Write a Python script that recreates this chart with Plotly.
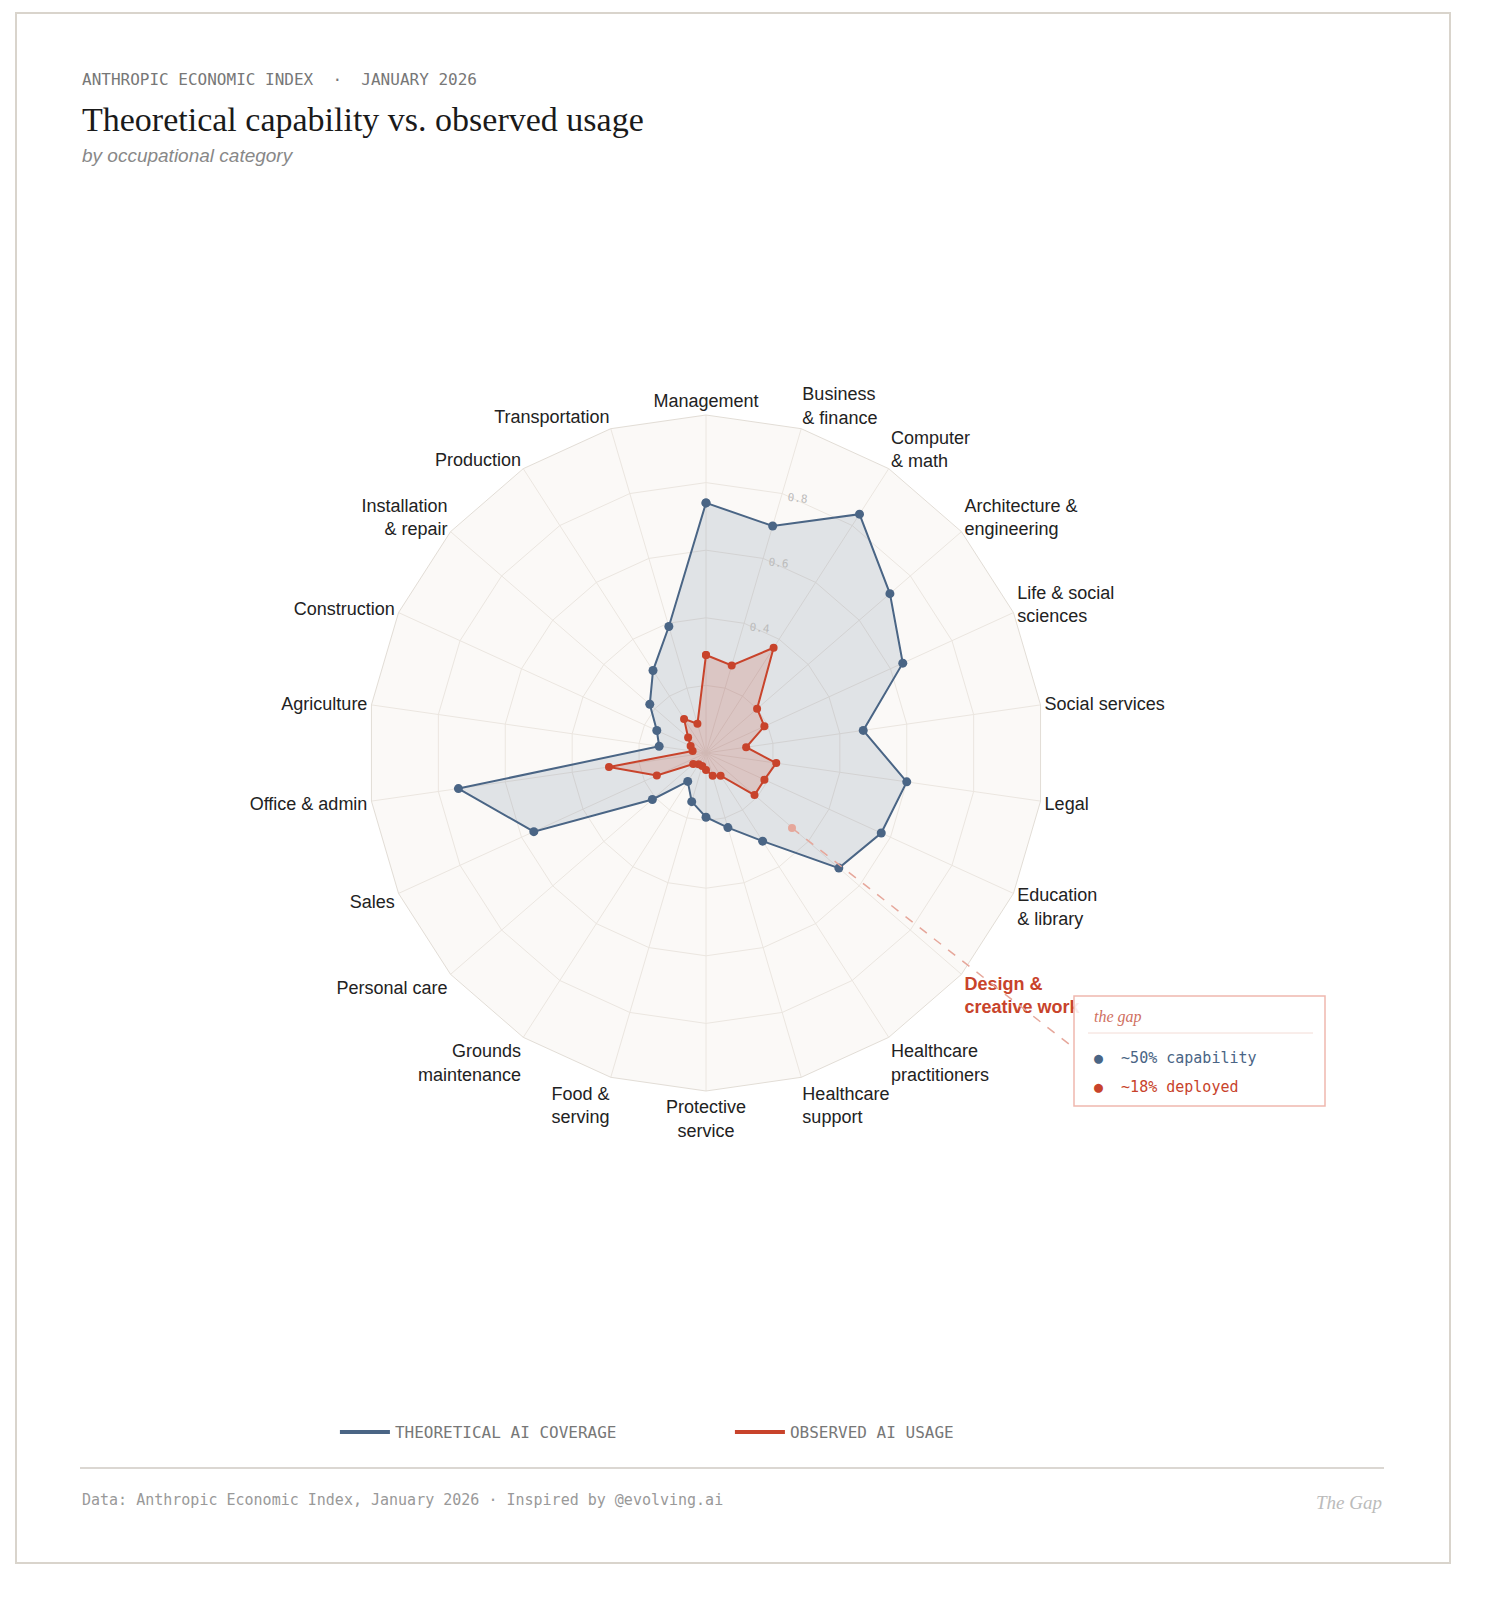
import plotly.graph_objects as go

categories = ['Management', 'Business<br>& finance', 'Computer<br>& math', 'Architecture &<br>engineering',
              'Life & social<br>sciences', 'Social services', 'Legal', 'Education<br>& library',
              '<span style="color:#c8432b"><b>Design &<br>creative work</b></span>',
              'Healthcare<br>practitioners', 'Healthcare<br>support',
              'Protective<br>service', 'Food &<br>serving', 'Grounds<br>maintenance', 'Personal care',
              'Sales', 'Office & admin', 'Agriculture', 'Construction', 'Installation<br>& repair',
              'Production', 'Transportation']
theoretical = [0.74, 0.70, 0.84, 0.72, 0.64, 0.47, 0.60, 0.57, 0.52, 0.31, 0.23,
               0.19, 0.15, 0.10, 0.21, 0.56, 0.74, 0.14, 0.16, 0.22, 0.29, 0.39]
observed = [0.29, 0.27, 0.37, 0.20, 0.19, 0.12, 0.21, 0.19, 0.19, 0.08, 0.07,
            0.05, 0.04, 0.04, 0.05, 0.16, 0.29, 0.04, 0.05, 0.07, 0.12, 0.09]
radial_ticks = [0.2, 0.4, 0.6, 0.8]

BLUE = '#4a6585'
RED = '#c8432b'
W, H = 1504, 1620
MONO = 'DejaVu Sans Mono, monospace'


def px(x):
    return x / W


def py(y):
    return 1 - y / H


# close the polygons
cats_c = categories + categories[:1]
theo_c = theoretical + theoretical[:1]
obs_c = observed + observed[:1]

fig = go.Figure()
fig.add_trace(go.Scatterpolar(
    r=theo_c, theta=cats_c, mode='lines+markers', fill='toself',
    fillcolor='rgba(74,101,133,0.15)', line=dict(color=BLUE, width=2),
    marker=dict(color=BLUE, size=9), showlegend=False, hoverinfo='skip'))
fig.add_trace(go.Scatterpolar(
    r=obs_c, theta=cats_c, mode='lines+markers', fill='toself',
    fillcolor='rgba(200,67,43,0.18)', line=dict(color=RED, width=2),
    marker=dict(color=RED, size=8), showlegend=False, hoverinfo='skip'))

# legend-only entries
fig.add_trace(go.Scatterpolar(r=[None], theta=[categories[0]], mode='lines',
                              line=dict(color=BLUE, width=4), name='THEORETICAL AI COVERAGE'))
fig.add_trace(go.Scatterpolar(r=[None], theta=[categories[0]], mode='lines',
                              line=dict(color=RED, width=4), name='OBSERVED AI USAGE'))

fig.update_layout(
    width=W, height=H,
    margin=dict(l=0, r=0, t=0, b=0),
    paper_bgcolor='white',
    font=dict(family='Liberation Sans, Arial', color='#333'),
    polar=dict(
        domain=dict(x=[px(360), px(1036)], y=[py(1083), py(407)]),
        bgcolor='#fbf9f7',
        gridshape='linear',
        angularaxis=dict(direction='clockwise', rotation=90, tickfont=dict(size=18, color='#222'),
                         gridcolor='#ebe6e0', linecolor='#e2ddd6', showline=True),
        radialaxis=dict(range=[0, 1], tickvals=radial_ticks, ticktext=['', '0.4', '0.6', '0.8'],
                        angle=80, tickangle=80, showline=False, gridcolor='#ebe6e0',
                        tickfont=dict(size=11, color='#bbb', family=MONO)),
    ),
    legend=dict(orientation='h', x=0.48, xanchor='center', y=py(1424), yanchor='middle',
                font=dict(family=MONO, size=16, color='#777'), itemwidth=50, entrywidth=330),
)

# frame and footer rule
fig.add_shape(type='rect', xref='paper', yref='paper', x0=px(8), x1=px(1442), y0=py(1555), y1=py(5),
              line=dict(color='#d9d4cc', width=2))
fig.add_shape(type='line', xref='paper', yref='paper', x0=px(72), x1=px(1376), y0=py(1460), y1=py(1460),
              line=dict(color='#cfcac3', width=1.5))

# header texts
fig.add_annotation(text='ANTHROPIC ECONOMIC INDEX  ·  JANUARY 2026',
                   x=px(72), y=py(72), xref='paper', yref='paper', xanchor='left', yanchor='middle',
                   showarrow=False, font=dict(family=MONO, size=16, color='#777'))
fig.add_annotation(text='Theoretical capability vs. observed usage', x=px(72), y=py(112),
                   xref='paper', yref='paper', xanchor='left', yanchor='middle', showarrow=False,
                   font=dict(family='Liberation Serif, serif', size=34, color='#1a1a1a'))
fig.add_annotation(text='<i>by occupational category</i>', x=px(72), y=py(148), xref='paper', yref='paper',
                   xanchor='left', yanchor='middle', showarrow=False, font=dict(size=19, color='#888'))

# footer texts
fig.add_annotation(text='Data: Anthropic Economic Index, January 2026 · Inspired by @evolving.ai',
                   x=px(72), y=py(1492), xref='paper', yref='paper', xanchor='left', yanchor='middle',
                   showarrow=False, font=dict(family=MONO, size=15, color='#999'))
fig.add_annotation(text='<i>The Gap</i>', x=px(1376), y=py(1494), xref='paper', yref='paper',
                   xanchor='right', yanchor='middle', showarrow=False,
                   font=dict(family='Liberation Serif, serif', size=19, color='#bbb'))

# gap callout
fig.add_shape(type='line', xref='paper', yref='paper', x0=px(784), y0=py(820), x1=px(1066), y1=py(1040),
              line=dict(color='#e6a79b', width=1.5, dash='dash'))
fig.add_shape(type='circle', xref='paper', yref='paper', x0=px(780), x1=px(788), y0=py(824), y1=py(816),
              fillcolor='#e6a79b', line=dict(width=0))
fig.add_shape(type='rect', xref='paper', yref='paper', x0=px(1066), x1=px(1317), y0=py(1098), y1=py(988),
              fillcolor='rgba(255,255,255,0.9)', line=dict(color='#f0b8ae', width=1.5))
fig.add_shape(type='line', xref='paper', yref='paper', x0=px(1080), x1=px(1305), y0=py(1025), y1=py(1025),
              line=dict(color='#f3dcd6', width=1))
fig.add_annotation(text='<i>the gap</i>', x=px(1084), y=py(1009), xref='paper', yref='paper',
                   xanchor='left', yanchor='middle', showarrow=False,
                   font=dict(family='Liberation Serif, serif', size=16, color='#d0705f'))
fig.add_annotation(text='<span style="color:#4a6585">●</span>  ~50% capability', x=px(1084), y=py(1050),
                   xref='paper', yref='paper', xanchor='left', yanchor='middle', showarrow=False,
                   font=dict(family=MONO, size=15, color=BLUE))
fig.add_annotation(text='<span style="color:#c8432b">●</span>  ~18% deployed', x=px(1084), y=py(1079),
                   xref='paper', yref='paper', xanchor='left', yanchor='middle', showarrow=False,
                   font=dict(family=MONO, size=15, color=RED))

fig.write_html('out.html')
